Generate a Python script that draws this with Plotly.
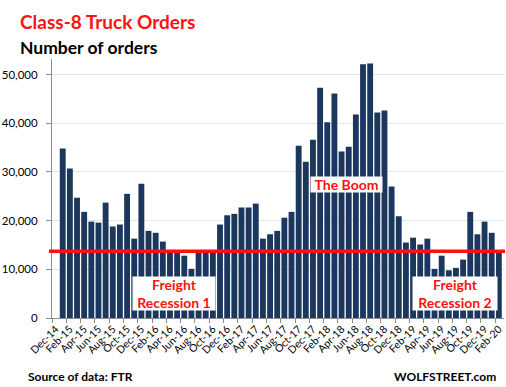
import plotly.graph_objects as go

# ---------------- data ----------------
months = ["Dec-14",
          "Jan-15", "Feb-15", "Mar-15", "Apr-15", "May-15", "Jun-15", "Jul-15", "Aug-15", "Sep-15", "Oct-15", "Nov-15", "Dec-15",
          "Jan-16", "Feb-16", "Mar-16", "Apr-16", "May-16", "Jun-16", "Jul-16", "Aug-16", "Sep-16", "Oct-16", "Nov-16", "Dec-16",
          "Jan-17", "Feb-17", "Mar-17", "Apr-17", "May-17", "Jun-17", "Jul-17", "Aug-17", "Sep-17", "Oct-17", "Nov-17", "Dec-17",
          "Jan-18", "Feb-18", "Mar-18", "Apr-18", "May-18", "Jun-18", "Jul-18", "Aug-18", "Sep-18", "Oct-18", "Nov-18", "Dec-18",
          "Jan-19", "Feb-19", "Mar-19", "Apr-19", "May-19", "Jun-19", "Jul-19", "Aug-19", "Sep-19", "Oct-19", "Nov-19", "Dec-19",
          "Jan-20", "Feb-20"]

orders = [None,
          34800, 30700, 24700, 21800, 19800, 19600, 23700, 18800, 19200, 25500, 16300, 27600,
          17900, 17500, 15700, 13600, 13600, 12800, 10100, 13600, 13600, 13600, 19200, 21100,
          21400, 22700, 22700, 23500, 16300, 17200, 17900, 20600, 21800, 35400, 32100, 36600,
          47300, 40200, 46100, 34200, 35200, 41800, 52100, 52300, 42200, 42600, 27000, 20900,
          15500, 16500, 15100, 16300, 10100, 12800, 9800, 10300, 12000, 21800, 17200, 19800,
          17500, 13600]

threshold = 13700
y_ticks = [0, 10000, 20000, 30000, 40000, 50000]

# ---------------- layout helpers ----------------
W, H = 506, 387
L, R, T, B = 52, 2, 59, 69
PW, PH = W - L - R, H - T - B


def px_x(p):
    return (p - L) / PW


def px_y(p):
    return (H - B - p) / PH


idx = list(range(len(months)))
label_idx = idx[::2]
label_txt = [months[i] for i in label_idx]
minor_ticks = [i - 0.5 for i in label_idx]

NAVY = "#1c375e"
RED = "#ff1111"
FONT = "Lato, 'Open Sans', sans-serif"

fig = go.Figure()
fig.add_trace(go.Bar(x=idx, y=orders, marker=dict(color=NAVY, line=dict(width=0)),
                     hoverinfo="skip"))

fig.update_layout(
    width=W, height=H,
    margin=dict(l=L, r=R, t=T, b=B),
    paper_bgcolor="white", plot_bgcolor="white",
    showlegend=False, bargap=0.18,
    font=dict(family=FONT, color="black", size=11),
)

fig.update_xaxes(
    range=[-0.5, 62.72], tickmode="array", tickvals=label_idx, ticktext=label_txt,
    tickangle=-45, tickfont=dict(size=10.5, color="black"),
    ticks="", showgrid=False, zeroline=False, automargin=False,
    showline=True, linecolor="#8c8c8c", linewidth=1,
    minor=dict(tickmode="array", tickvals=minor_ticks, ticks="outside",
               ticklen=4, tickcolor="#8c8c8c", tickwidth=1, showgrid=False),
)
fig.update_yaxes(
    range=[0, 53200], tickmode="array", tickvals=y_ticks, tickformat=",d",
    tickfont=dict(size=11.5, color="black"), automargin=False,
    ticks="outside", ticklen=5, tickcolor="#8c8c8c",
    showgrid=True, gridcolor="#dfe5ef", gridwidth=1,
    zeroline=False, showline=True, linecolor="#8c8c8c", linewidth=1,
    ticklabelstandoff=6,
)

# threshold line
fig.add_shape(type="line", xref="paper", yref="y",
              x0=px_x(49), x1=px_x(505), y0=threshold, y1=threshold,
              line=dict(color=RED, width=3.5), layer="above")

# boxed labels
def box(text, cx, cy, w, h):
    fig.add_annotation(xref="paper", yref="paper", x=px_x(cx), y=px_y(cy),
                       text=text, showarrow=False, xanchor="center", yanchor="middle",
                       font=dict(family=FONT, size=14, color=RED, weight="bold"),
                       bgcolor="white", width=w, height=h, borderpad=1, align="center")

box("Freight<br>Recession 1", 173.7, 293, 80, 31)
box("Freight<br>Recession 2", 454.8, 293, 82, 31)
box("The Boom", 346.5, 184.2, 69, 13)

# titles and footers
def text(t, x, y, size, color, xanchor="left"):
    fig.add_annotation(xref="paper", yref="paper", x=px_x(x), y=px_y(y), text=t,
                       showarrow=False, xanchor=xanchor, yanchor="middle",
                       font=dict(family=FONT, size=size, color=color, weight="bold"))

text("Class-8 Truck Orders", 17.5, 21.5, 19, RED)
text("Number of orders", 17.5, 47, 17.5, "black")
text("Source of data: FTR", 25.5, 376, 12, "black")
text("WOLFSTREET.com", 498, 376, 12, "black", xanchor="right")

fig.write_html("out.html", config={"displayModeBar": False},
               post_script="document.body.style.margin='0';document.body.style.padding='0';")
